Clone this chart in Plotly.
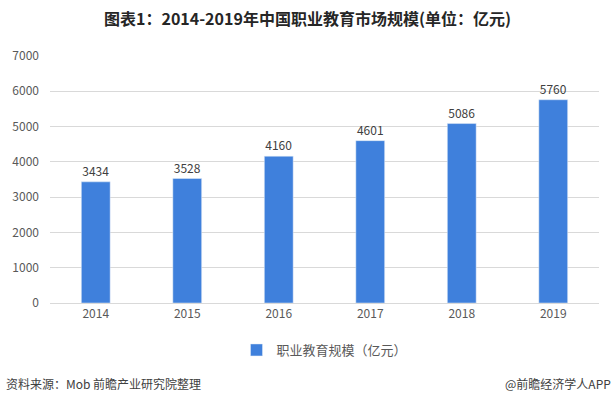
import plotly.graph_objects as go

years = ["2014", "2015", "2016", "2017", "2018", "2019"]
values = [3434, 3528, 4160, 4601, 5086, 5760]
series_name = "职业教育规模（亿元）"
title_text = "图表1：2014-2019年中国职业教育市场规模(单位：亿元)"
source_text = "资料来源：Mob 前瞻产业研究院整理"
brand_text = "@前瞻经济学人APP"

font_family = "Noto Sans CJK SC, Microsoft YaHei, sans-serif"

fig = go.Figure()
fig.add_trace(go.Bar(
    x=years, y=values, name=series_name,
    marker=dict(color="#3F80DC"),
    text=[str(v) for v in values], textposition="outside",
    textfont=dict(size=12, color="#404040"),
    cliponaxis=False,
))

W, H = 615, 405
ml, mr, mt, mb = 46, 16, 56, 102
ph = H - mt - mb

fig.update_layout(
    width=W, height=H,
    margin=dict(l=ml, r=mr, t=mt, b=mb),
    paper_bgcolor="white", plot_bgcolor="white",
    font=dict(family=font_family, color="#595959", size=12),
    bargap=0.685,
    showlegend=True,
    legend=dict(orientation="h", x=0.5, xanchor="center", y=-(350 - 303) / ph, yanchor="middle",
                font=dict(size=13, color="#595959"), itemwidth=30),
    xaxis=dict(showline=True, linecolor="#D9D9D9", linewidth=1, ticks="",
               tickfont=dict(size=12, color="#595959"), showgrid=False),
    yaxis=dict(range=[0, 7000], dtick=1000, showgrid=True, gridcolor="#D9D9D9",
               zeroline=False, ticks="", tickfont=dict(size=12, color="#595959"),
               ticklabelstandoff=10),
    title=dict(text="<b>" + title_text + "</b>", x=0.5, xanchor="center", y=1 - 19 / H, yanchor="middle",
               font=dict(size=16, color="#262626", family=font_family)),
    annotations=[
        dict(text=source_text, xref="paper", yref="paper", x=-ml / (W - ml - mr), xanchor="left",
             y=-(383 - 303) / ph, yanchor="middle", showarrow=False,
             font=dict(size=12, color="#404040")),
        dict(text=brand_text, xref="paper", yref="paper", x=1 + (mr - 2) / (W - ml - mr), xanchor="right",
             y=-(383 - 303) / ph, yanchor="middle", showarrow=False,
             font=dict(size=12, color="#404040")),
    ],
)

fig.write_html("out.html")
